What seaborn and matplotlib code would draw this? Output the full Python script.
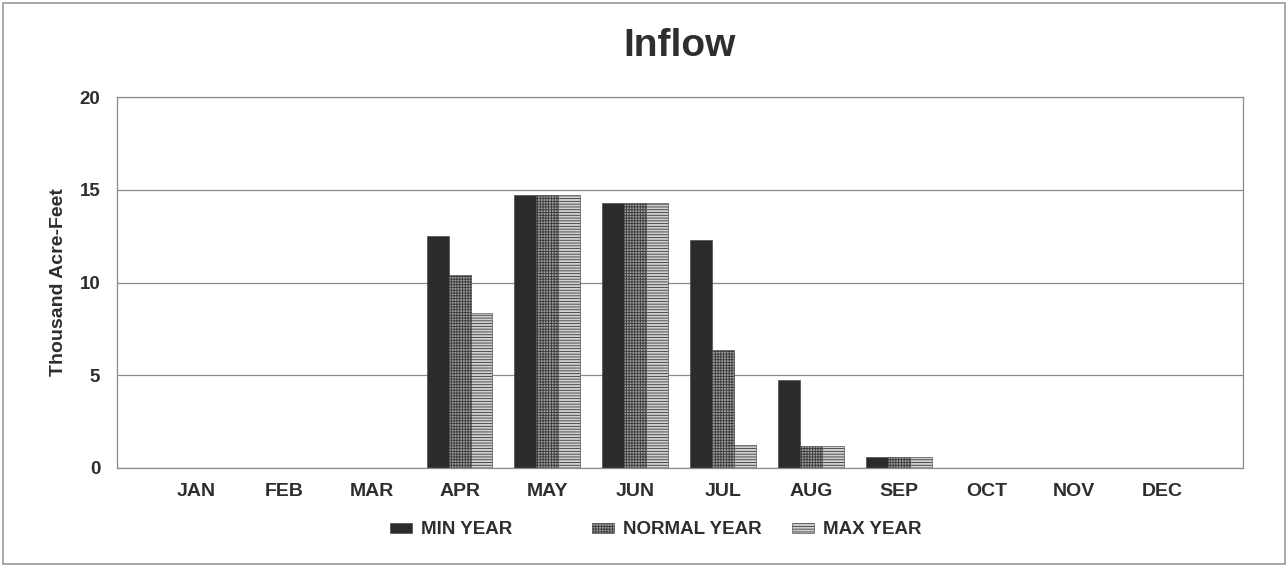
import matplotlib
matplotlib.use("Agg")
import matplotlib.pyplot as plt
import seaborn as sns
import pandas as pd
from matplotlib.patches import Rectangle

months = ["JAN", "FEB", "MAR", "APR", "MAY", "JUN", "JUL", "AUG", "SEP", "OCT", "NOV", "DEC"]
min_year = [0, 0, 0, 12.5, 14.7, 14.3, 12.3, 4.75, 0.6, 0, 0, 0]
normal_year = [0, 0, 0, 10.4, 14.7, 14.3, 6.35, 1.2, 0.6, 0, 0, 0]
max_year = [0, 0, 0, 8.35, 14.7, 14.3, 1.25, 1.2, 0.6, 0, 0, 0]
series_names = ["MIN YEAR", "NORMAL YEAR", "MAX YEAR"]
y_ticks = [0, 5, 10, 15, 20]

rows = []
for name, vals in zip(series_names, [min_year, normal_year, max_year]):
    for m, v in zip(months, vals):
        rows.append({"month": m, "value": v, "series": name})
df = pd.DataFrame(rows)

sns.set_theme(style="white")
plt.rcParams['font.family'] = ['Liberation Sans', 'DejaVu Sans']
plt.rcParams['hatch.linewidth'] = 0.6

text_col = "#2e2e2e"
fig = plt.figure(figsize=(12.88, 5.67), dpi=100)
ax = fig.add_axes([117/1288, 1-468/567, (1243-117)/1288, (468-97)/567])

face = {"MIN YEAR": "#2b2b2b", "NORMAL YEAR": "#9c9c9c", "MAX YEAR": "#d0d0d0"}
hatches = {"MIN YEAR": "", "NORMAL YEAR": "++++++", "MAX YEAR": "------"}

sns.barplot(data=df, x="month", y="value", hue="series", order=months,
            hue_order=series_names, palette=face, saturation=1, width=0.75,
            ax=ax, legend=False)

for cont, name in zip(ax.containers, series_names):
    for bar in cont:
        bar.set_hatch(hatches[name])
        bar.set_edgecolor("#3a3a3a")
        bar.set_linewidth(0.4)

ax.set_xlim(-0.9, 11.92)
ax.set_ylim(0, 20)
ax.set_yticks(y_ticks)
ax.set_yticklabels([str(t) for t in y_ticks], fontsize=13.5, fontweight="bold", color=text_col)
ax.set_xticks(range(len(months)))
ax.set_xticklabels(months, fontsize=14, fontweight="bold", color=text_col)
ax.tick_params(axis="x", length=0, pad=11)
ax.tick_params(axis="y", length=0, pad=12)
ax.set_xlabel("")
ax.set_ylabel("Thousand Acre-Feet", fontsize=14, fontweight="bold", color=text_col, labelpad=9)
ax.yaxis.grid(True, color="#8a8a8a", linewidth=0.9)
ax.set_axisbelow(True)
for s in ax.spines.values():
    s.set_visible(True)
    s.set_color("#8a8a8a")
    s.set_linewidth(0.9)

fig.text(680/1288, 1-46/567, "Inflow", ha="center", va="center", fontsize=28,
         fontweight="bold", color=text_col)

# legends placed individually
xpos = [390, 592, 792]
for cont, name, x in zip(ax.containers, series_names, xpos):
    h = Rectangle((0, 0), 1, 1, facecolor=face[name], hatch=hatches[name],
                  edgecolor="#3a3a3a", linewidth=0.4)
    leg = fig.legend([h], [name], loc="center left",
                     bbox_to_anchor=(x/1288, 1-530/567), frameon=False,
                     prop={"size": 13.5, "weight": "bold"}, handlelength=1.17,
                     handleheight=0.5, handletextpad=0.5, borderaxespad=0, borderpad=0)
    for t in leg.get_texts():
        t.set_color(text_col)

fig.patches.append(Rectangle((3/1288, 3/567), 1-6/1288, 1-6/567, transform=fig.transFigure,
                             fill=False, edgecolor="#9a9a9a", linewidth=1.2))

fig.savefig("out.png", dpi=100)
